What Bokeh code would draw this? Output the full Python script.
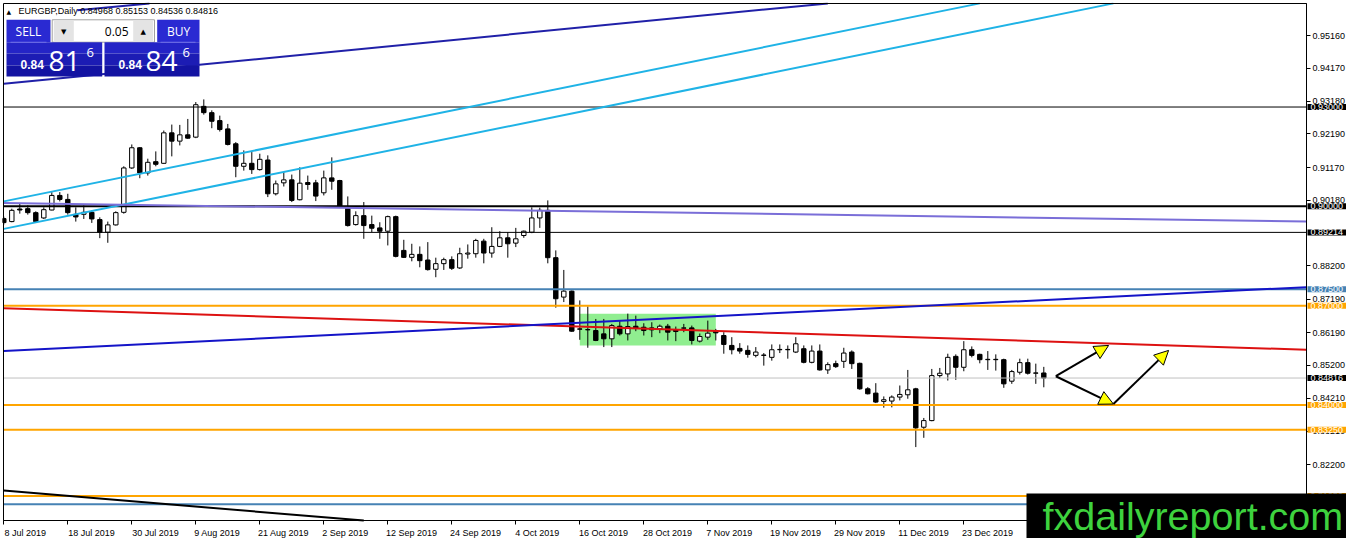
import pandas as pd
from bokeh.plotting import figure
from bokeh.models import (Range1d, FixedTicker, PrintfTickFormatter, Label,
                          BoxAnnotation, Arrow, NormalHead, ColumnDataSource)
from bokeh.embed import file_html
from bokeh.resources import INLINE

# ---------------- data ----------------
symbol = "EURGBP"
timeframe = "Daily"
bid_price = 0.84816
ask_price = 0.84846
lot_size = "0.05"

open_ = [0.8963, 0.8954, 0.8992, 0.8993, 0.8981, 0.8965, 0.8989, 0.9033, 0.9021, 0.8976,
         0.8976, 0.8982, 0.8960, 0.8922, 0.8944, 0.8982, 0.9116, 0.9177, 0.9101, 0.9135,
         0.9130, 0.9222, 0.9197, 0.9216, 0.9209, 0.9302, 0.9283, 0.9259, 0.9234, 0.9189,
         0.9121, 0.9130, 0.9111, 0.9140, 0.9038, 0.9071, 0.9080, 0.9020, 0.9072, 0.9071,
         0.9041, 0.9086, 0.9078, 0.8994, 0.8945, 0.8972, 0.8945, 0.8935, 0.8925, 0.8969,
         0.8867, 0.8846, 0.8855, 0.8838, 0.8810, 0.8827, 0.8839, 0.8814, 0.8856, 0.8857,
         0.8895, 0.8859, 0.8879, 0.8905, 0.8889, 0.8912, 0.8922, 0.8965, 0.8988, 0.8845,
         0.8726, 0.8744, 0.8630, 0.8627, 0.8625, 0.8615, 0.8600, 0.8638, 0.8615, 0.8638,
         0.8635, 0.8633, 0.8630, 0.8638, 0.8627, 0.8632, 0.8633, 0.8593, 0.8605, 0.8623,
         0.8610, 0.8580, 0.8571, 0.8565, 0.8550, 0.8551, 0.8544, 0.8567, 0.8568, 0.8560,
         0.8570, 0.8529, 0.8563, 0.8506, 0.8525, 0.8532, 0.8560, 0.8526, 0.8449, 0.8436,
         0.8411, 0.8412, 0.8424, 0.8431, 0.8449, 0.8333, 0.8353, 0.8489, 0.8494, 0.8547,
         0.8514, 0.8567, 0.8553, 0.8537, 0.8538, 0.8537, 0.8472, 0.8499, 0.8528, 0.8496,
         0.84968]
high = [0.8969, 0.8993, 0.9008, 0.9003, 0.8985, 0.8997, 0.9043, 0.9043, 0.9038, 0.8997,
        0.9003, 0.8988, 0.8967, 0.8954, 0.8985, 0.9121, 0.9187, 0.9179, 0.9144, 0.9166,
        0.9229, 0.9247, 0.9246, 0.9264, 0.9315, 0.9323, 0.9290, 0.9274, 0.9249, 0.9194,
        0.9169, 0.9164, 0.9159, 0.9154, 0.9078, 0.9103, 0.9096, 0.9118, 0.9093, 0.9080,
        0.9108, 0.9148, 0.9080, 0.9030, 0.8985, 0.9013, 0.8972, 0.8952, 0.8972, 0.8972,
        0.8899, 0.8887, 0.8879, 0.8892, 0.8845, 0.8845, 0.8849, 0.8875, 0.8885, 0.8902,
        0.8902, 0.8937, 0.8925, 0.8922, 0.8935, 0.8927, 0.8997, 0.8996, 0.9018, 0.8867,
        0.8808, 0.8746, 0.8716, 0.8698, 0.8660, 0.8660, 0.8645, 0.8655, 0.8676, 0.8670,
        0.8647, 0.8650, 0.8643, 0.8645, 0.8637, 0.8645, 0.8640, 0.8616, 0.8655, 0.8630,
        0.8620, 0.8605, 0.8587, 0.8580, 0.8575, 0.8557, 0.8583, 0.8583, 0.8580, 0.8605,
        0.8580, 0.8580, 0.8583, 0.8529, 0.8534, 0.8573, 0.8565, 0.8528, 0.8454, 0.8466,
        0.8426, 0.8429, 0.8459, 0.8506, 0.8452, 0.8361, 0.8509, 0.8512, 0.8555, 0.8553,
        0.8593, 0.8577, 0.8555, 0.8563, 0.8553, 0.8540, 0.8506, 0.8540, 0.8540, 0.8525,
        0.85153]
low = [0.8945, 0.8952, 0.8978, 0.8975, 0.8950, 0.8962, 0.8988, 0.9015, 0.8975, 0.8954,
       0.8962, 0.8950, 0.8904, 0.8890, 0.8942, 0.8978, 0.9113, 0.9085, 0.9093, 0.9121,
       0.9129, 0.9151, 0.9184, 0.9204, 0.9206, 0.9277, 0.9236, 0.9226, 0.9184, 0.9088,
       0.9108, 0.9098, 0.9108, 0.9028, 0.9033, 0.9060, 0.9013, 0.9018, 0.9050, 0.9016,
       0.9033, 0.9050, 0.8997, 0.8939, 0.8942, 0.8902, 0.8922, 0.8902, 0.8882, 0.8846,
       0.8844, 0.8834, 0.8816, 0.8806, 0.8786, 0.8808, 0.8808, 0.8811, 0.8842, 0.8845,
       0.8828, 0.8845, 0.8877, 0.8845, 0.8877, 0.8905, 0.8919, 0.8935, 0.8828, 0.8694,
       0.8711, 0.8621, 0.8597, 0.8573, 0.8593, 0.8575, 0.8575, 0.8610, 0.8595, 0.8623,
       0.8610, 0.8605, 0.8617, 0.8595, 0.8593, 0.8620, 0.8583, 0.8589, 0.8597, 0.8595,
       0.8555, 0.8553, 0.8555, 0.8543, 0.8544, 0.8519, 0.8534, 0.8557, 0.8540, 0.8557,
       0.8526, 0.8526, 0.8504, 0.8494, 0.8512, 0.8512, 0.8509, 0.8446, 0.8432, 0.8406,
       0.8392, 0.8393, 0.8414, 0.8419, 0.8273, 0.8301, 0.8351, 0.8482, 0.8474, 0.8476,
       0.8502, 0.8544, 0.8526, 0.8506, 0.8504, 0.8452, 0.8464, 0.8492, 0.8492, 0.8464,
       0.84536]
close = [0.8951, 0.8988, 0.8989, 0.8981, 0.8954, 0.8990, 0.9033, 0.9021, 0.8981, 0.8968,
         0.8982, 0.8962, 0.8922, 0.8944, 0.8981, 0.9116, 0.9177, 0.9101, 0.9133, 0.9127,
         0.9222, 0.9197, 0.9216, 0.9206, 0.9307, 0.9283, 0.9257, 0.9232, 0.9187, 0.9121,
         0.9130, 0.9111, 0.9142, 0.9038, 0.9068, 0.9080, 0.9018, 0.9070, 0.9066, 0.9031,
         0.9086, 0.9076, 0.9000, 0.8942, 0.8972, 0.8942, 0.8934, 0.8925, 0.8969, 0.8849,
         0.8846, 0.8855, 0.8836, 0.8809, 0.8827, 0.8839, 0.8813, 0.8857, 0.8859, 0.8897,
         0.8859, 0.8879, 0.8905, 0.8887, 0.8902, 0.8925, 0.8965, 0.8988, 0.8845, 0.8721,
         0.8744, 0.8623, 0.8629, 0.8628, 0.8595, 0.8600, 0.8640, 0.8615, 0.8637, 0.8632,
         0.8625, 0.8627, 0.8638, 0.8620, 0.8622, 0.8633, 0.8595, 0.8607, 0.8617, 0.8618,
         0.8583, 0.8567, 0.8563, 0.8553, 0.8560, 0.8550, 0.8567, 0.8568, 0.8567, 0.8585,
         0.8529, 0.8563, 0.8506, 0.8522, 0.8516, 0.8557, 0.8525, 0.8449, 0.8434, 0.8409,
         0.8416, 0.8424, 0.8432, 0.8446, 0.8331, 0.8353, 0.8489, 0.8496, 0.8544, 0.8514,
         0.8567, 0.8550, 0.8537, 0.8538, 0.8537, 0.8464, 0.8501, 0.8528, 0.8496, 0.8497,
         0.84816]

date_tick_bars = [0, 8, 16, 24, 32, 40, 48, 56, 64, 72, 80, 88, 96, 104, 112, 120]
date_tick_labels = ["8 Jul 2019", "18 Jul 2019", "30 Jul 2019", "9 Aug 2019", "21 Aug 2019",
                    "2 Sep 2019", "12 Sep 2019", "24 Sep 2019", "4 Oct 2019", "16 Oct 2019",
                    "28 Oct 2019", "7 Nov 2019", "19 Nov 2019", "29 Nov 2019", "11 Dec 2019",
                    "23 Dec 2019"]

price_ticks = [0.9516, 0.9417, 0.9318, 0.9219, 0.9117, 0.9018, 0.8820, 0.8719,
               0.8619, 0.8520, 0.8421, 0.8321, 0.8220, 0.8120]

level_prices = [0.93000, 0.90000, 0.89214, 0.87500, 0.87000, 0.84000, 0.83250, 0.81250, 0.81000]
level_colors = ["black", "black", "black", "#4682B4", "#FFA500", "#FFA500", "#FFA500", "#FFA500", "#4682B4"]
level_widths = [1, 2, 1, 2, 2, 2, 2, 2, 2]

trend_bar0 = [0, 9.2, 0, 0, 0, 0, 0, 0]
trend_price0 = [0.9370, 0.9592, 0.9015, 0.8932, 0.9010, 0.8692, 0.8563, 0.8142]
trend_bar1 = [103, 18.2, 122, 138.7, 162.8, 162.8, 162.8, 45.0]
trend_price1 = [0.9613, 0.9613, 0.9613, 0.9613, 0.8954, 0.8567, 0.8756, 0.8051]
trend_colors = ["#2020a8", "#2020a8", "#1fb3e6", "#1fb3e6", "#7a6ed8", "#dd1111", "#1414c8", "black"]

zone_left_bar = [72]
zone_right_bar = [89]
zone_low = [0.8580]
zone_high = [0.8676]

arrow_bar0 = [131.5, 131.5, 138.7]
arrow_price0 = [0.8487, 0.8487, 0.8403]
arrow_bar1 = [138.1, 138.7, 145.6]
arrow_price1 = [0.8580, 0.8403, 0.8565]

# ---------------- view geometry (pixels of the picture) ----------------
W, H = 1346, 538
ML, MT = 2, 2
BAR_W = 8.0
CHART_L, CHART_T, CHART_R, CHART_B = 3, 3, 1306, 520


def bar_at(px):
    return (px - 3.3) / BAR_W


def price_at(py):
    return 0.96217 - 0.000302 * py


def sx(px):                       # picture x -> frame screen x
    return px - ML


def sy(py):                       # picture y -> frame screen y (measured from frame bottom)
    return H - py


X_START, X_EDGE = bar_at(CHART_L), bar_at(CHART_R)
Y_TOP, Y_BOTTOM = price_at(CHART_T), price_at(CHART_B)

df = pd.DataFrame(dict(o=open_, h=high, l=low, c=close))
df["bar"] = range(len(df))
df["top"] = df[["o", "c"]].max(axis=1)
df["bottom"] = df[["o", "c"]].min(axis=1)
df["fill"] = ["white" if c >= o else "black" for o, c in zip(df.o, df.c)]
src = ColumnDataSource(df)

p = figure(width=W, height=H, output_backend="svg", toolbar_location=None,
           x_range=Range1d(bar_at(ML), bar_at(W)), y_range=Range1d(price_at(H), price_at(MT)),
           y_axis_location="right",
           min_border_left=ML, min_border_top=MT, min_border_right=0, min_border_bottom=0)
p.xgrid.visible = False
p.ygrid.visible = False
p.outline_line_color = None
p.background_fill_color = "white"
p.border_fill_color = "white"

# price axis on the right edge of the chart box
ya = p.yaxis[0]
ya.fixed_location = X_EDGE
ya.bounds = (Y_BOTTOM, Y_TOP)
ya.axis_label = None
ya.ticker = FixedTicker(ticks=price_ticks, minor_ticks=[])
ya.formatter = PrintfTickFormatter(format="%.5f")
ya.major_tick_out = 4
ya.major_tick_in = 0
ya.minor_tick_out = 0
ya.minor_tick_in = 0
ya.major_label_standoff = 2
ya.major_label_text_font = "Liberation Sans"
ya.major_label_text_font_size = "9px"
ya.major_label_text_color = "black"
ya.axis_line_color = "black"

# date axis along the bottom of the chart box: labels start at their tick like MT4
centers = [round(b + (2.25 * len(t) - 1) / BAR_W, 3) for b, t in zip(date_tick_bars, date_tick_labels)]
xa = p.xaxis[0]
xa.fixed_location = Y_BOTTOM
xa.bounds = (X_START, X_EDGE)
xa.axis_label = None
xa.ticker = FixedTicker(ticks=centers, minor_ticks=date_tick_bars)
xa.major_label_overrides = {c: t for c, t in zip(centers, date_tick_labels)}
xa.major_tick_out = 0
xa.major_tick_in = 0
xa.minor_tick_out = 4
xa.minor_tick_in = 0
xa.minor_tick_line_color = "black"
xa.major_label_standoff = 3
xa.major_label_text_font = "Liberation Sans"
xa.major_label_text_font_size = "9px"
xa.major_label_text_color = "black"
xa.axis_line_color = "black"

# zone rectangle
p.quad(left=zone_left_bar, right=zone_right_bar, bottom=zone_low, top=zone_high,
       fill_color="#90EE90", line_color=None)

# candles
p.segment(x0="bar", y0="h", x1="bar", y1="l", source=src, line_color="black", line_width=1)
p.vbar(x="bar", width=0.55, top="top", bottom="bottom", source=src,
       fill_color="fill", line_color="black", line_width=1)

# horizontal levels (stop at the chart's right edge)
lsrc = ColumnDataSource(dict(y=level_prices + [close[-1]],
                             color=level_colors + ["#c0c0c0"],
                             width=level_widths + [1]))
p.segment(x0=X_START, x1=X_EDGE, y0="y", y1="y", source=lsrc, line_color="color", line_width="width")

# trend lines
tsrc = ColumnDataSource(dict(x0=trend_bar0, y0=trend_price0, x1=trend_bar1, y1=trend_price1,
                             color=trend_colors))
p.segment(x0="x0", y0="y0", x1="x1", y1="y1", source=tsrc, line_color="color", line_width=2)

# projection arrows
asrc = ColumnDataSource(dict(x0=arrow_bar0, y0=arrow_price0, x1=arrow_bar1, y1=arrow_price1))
p.add_layout(Arrow(end=NormalHead(size=14, fill_color="yellow", line_color="black", line_width=1),
                   x_start="x0", y_start="y0", x_end="x1", y_end="y1", source=asrc,
                   line_color="black", line_width=2))

# chart box border
p.add_layout(BoxAnnotation(left=X_START, right=X_EDGE, top=Y_TOP, bottom=Y_BOTTOM,
                           fill_alpha=0.0, line_color="black", line_width=1, line_alpha=1.0))

# chart title
p.add_layout(Label(x=sx(6), y=sy(10.5), x_units="screen", y_units="screen", text="\u25b2",
                   text_font="DejaVu Sans", text_font_size="6px", text_color="black",
                   text_baseline="middle"))
title = f"{symbol},{timeframe}  {open_[-1]:.5f} {high[-1]:.5f} {low[-1]:.5f} {close[-1]:.5f}"
p.add_layout(Label(x=sx(18), y=sy(10.7), x_units="screen", y_units="screen", text=title,
                   text_font="Liberation Sans", text_font_size="9px", text_color="black",
                   text_baseline="middle"))


# one-click trading panel
def box(l, r, t, b, color, line=None):
    p.add_layout(BoxAnnotation(left=sx(l), right=sx(r), top=sy(t), bottom=sy(b),
                               left_units="screen", right_units="screen",
                               top_units="screen", bottom_units="screen",
                               fill_color=color, fill_alpha=1.0,
                               line_color=line, line_alpha=1.0 if line else 0.0,
                               line_width=1))


def txt(x, y, s, size, color="white", align="left", bold=False, font="Open Sans"):
    p.add_layout(Label(x=sx(x), y=sy(y), x_units="screen", y_units="screen", text=s,
                       text_font=font, text_font_size=size, text_color=color,
                       text_align=align, text_baseline="middle",
                       text_font_style="bold" if bold else "normal"))


box(6, 50, 19.3, 41.7, "#2a2ad2")
box(156.7, 199, 19.3, 41.7, "#2a2ad2")
box(51.7, 154, 19.3, 41.7, "white", "#a0a0a0")
box(53.3, 73.3, 20.3, 40.7, "#e4e4e4")
box(132.7, 152.7, 20.3, 40.7, "#e4e4e4")
# price boxes with a simple top-to-bottom shading
for (t, b, col) in [(41.7, 53, "#2424c6"), (53, 65, "#1c1cb4"), (65, 76, "#1313a2")]:
    box(6, 101.7, t, b, col)
    box(104, 199, t, b, col)
box(10, 46, 41.2, 42.2, "#7070e8")
box(160, 195, 41.2, 42.2, "#7070e8")

txt(28, 31, "SELL", "12px", align="center")
txt(178, 31, "BUY", "12px", align="center")
txt(63.3, 31, "\u25bc", "7px", color="black", align="center", font="DejaVu Sans")
txt(142.7, 31, "\u25b2", "7px", color="black", align="center", font="DejaVu Sans")
txt(128, 31, lot_size, "12px", color="black", align="right")

bid_s = f"{bid_price:.5f}"
ask_s = f"{ask_price:.5f}"
txt(20, 64.2, bid_s[:4], "12px", bold=True, font="Liberation Sans")
txt(48, 60, bid_s[4:6], "28px")
txt(86, 52, bid_s[6], "13px")
txt(118, 64.2, ask_s[:4], "12px", bold=True, font="Liberation Sans")
txt(145, 60, ask_s[4:6], "28px")
txt(182, 52, ask_s[6], "13px")


# price tags next to the right axis
def price_tag(pr, bg):
    p.add_layout(Label(x=X_EDGE, y=pr, x_offset=1, text=f"{pr:.5f}", text_color="white",
                       text_font="Liberation Sans", text_font_size="9px", text_baseline="middle",
                       text_align="left", background_fill_color=bg,
                       padding=dict(left=3, right=4, top=0, bottom=0)))


for pr, col in zip(level_prices, level_colors):
    price_tag(pr, col)
price_tag(close[-1], "black")

# watermark
p.add_layout(Label(x=sx(1026), y=sy(493), x_units="screen", y_units="screen",
                   text="fxdailyreport.com", text_font="Liberation Sans", text_font_size="39.5px",
                   text_color="#3ed23e", background_fill_color="black",
                   text_align="left", text_baseline="top",
                   padding=dict(left=16, right=40, top=0, bottom=40)))

open("out.html", "w").write(file_html(p, INLINE))
